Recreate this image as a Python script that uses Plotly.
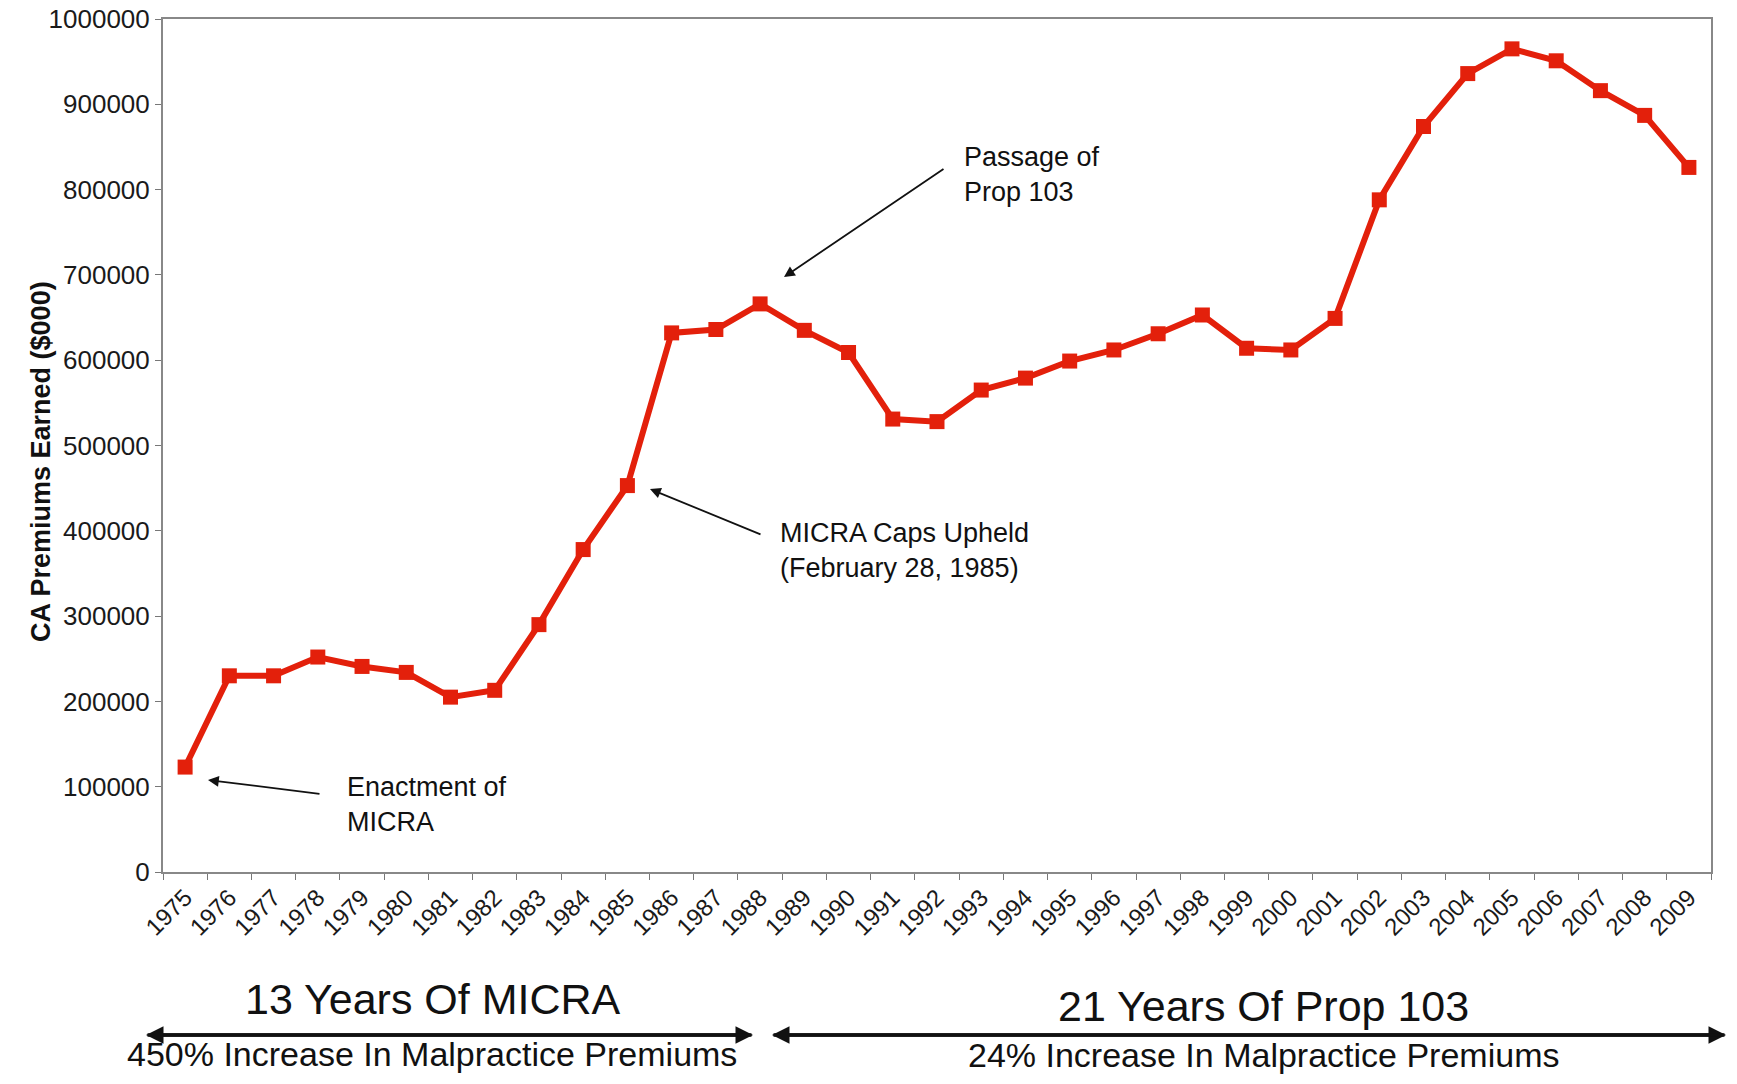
import plotly.graph_objects as go

years = [str(y) for y in range(1975, 2010)]
premiums = [123000, 230000, 230000, 252000, 241000, 234000, 205000, 213000, 290000, 378000,
            453000, 632000, 636000, 666000, 635000, 609000, 531000, 528000, 565000, 579000,
            599000, 612000, 631000, 653000, 614000, 612000, 649000, 788000, 874000, 936000,
            965000, 951000, 916000, 887000, 826000]
y_ticks = list(range(0, 1000001, 100000))

# page body has an 8px margin; the figure is sized to fit inside the window
OFF = 8
W, H = 1737 - 2 * OFF, 1084 - 2 * OFF
# plot area in window coordinates
PL, PR, PT, PB = 163, 1711, 19, 872
L, R, T, B = PL - OFF, W - (PR - OFF), PT - OFF, H - (PB - OFF)
PW, PH = W - L - R, H - T - B


def px(x):
    return (x - OFF - L) / PW


def py(y):
    return (H - B - (y - OFF)) / PH


FONT = "Liberation Sans, Arial, sans-serif"
RED = "#E3200B"

fig = go.Figure()
fig.add_trace(go.Scatter(
    x=years, y=premiums, mode="lines+markers",
    line=dict(color=RED, width=6),
    marker=dict(symbol="square", size=15, color=RED),
    showlegend=False,
))

fig.update_layout(
    width=W, height=H,
    margin=dict(l=L, r=R, t=T, b=B),
    paper_bgcolor="white", plot_bgcolor="white",
    font=dict(family=FONT, color="#1a1a1a"),
)
fig.update_xaxes(
    type="category", range=[-0.5, len(years) - 0.5], autorange=False, automargin=False,
    tickson="boundaries", ticks="outside", ticklen=6, ticklabeloverflow="allow",
    tickcolor="#777", showline=True, linecolor="#888", linewidth=2, mirror=True,
    showgrid=False, tickangle=-45, tickfont=dict(size=24, family=FONT),
)
fig.update_yaxes(
    range=[0, 1000000], autorange=False, automargin=False, tickvals=y_ticks, tickformat="d",
    ticks="outside", ticklen=6, ticklabeloverflow="allow",
    tickcolor="#777", showline=True, linecolor="#888", linewidth=2, mirror=True,
    showgrid=False, zeroline=False, tickfont=dict(size=26, family=FONT),
)

ann = []
# y-axis title
ann.append(dict(text="<b>CA Premiums Earned ($000)</b>", textangle=-90,
                xref="paper", yref="paper", x=px(24), y=py(462), showarrow=False,
                font=dict(size=27, family=FONT, color="#111")))


def arrow(x0, y0, x1, y1, width=1.8, head=2, size=1.2):
    return dict(text="", xref="x domain", yref="y domain", axref="x domain", ayref="y domain",
                x=px(x1), y=py(y1), ax=px(x0), ay=py(y0), showarrow=True,
                arrowhead=head, arrowsize=size, arrowwidth=width, arrowcolor="#111")


def text(t, x, y, size, xanchor="left", yanchor="top"):
    return dict(text=t, xref="paper", yref="paper", x=px(x), y=py(y), showarrow=False,
                xanchor=xanchor, yanchor=yanchor, align="left",
                font=dict(size=size, family=FONT, color="#111"))


# callouts
ann.append(arrow(945, 168, 784, 277))
ann.append(text("Passage of<br>Prop 103", 962, 140, 27))
ann.append(arrow(762, 535, 650, 489))
ann.append(text("MICRA Caps Upheld<br>(February 28, 1985)", 778, 516, 27))
ann.append(arrow(321, 794, 208, 780))
ann.append(text("Enactment of<br>MICRA", 345, 770, 27))

# bottom period labels
ann.append(text("13 Years Of MICRA", 433, 999, 43, xanchor="center", yanchor="middle"))
ann.append(arrow(146, 1035, 753, 1035, width=3.5, head=2, size=1.0))
ann.append(arrow(753, 1035, 146, 1035, width=3.5, head=2, size=1.0))
ann.append(text("450% Increase In Malpractice Premiums", 432, 1054, 34, xanchor="center", yanchor="middle"))
ann.append(text("21 Years Of Prop 103", 1263, 1006, 43, xanchor="center", yanchor="middle"))
ann.append(arrow(772, 1035, 1726, 1035, width=3.5, head=2, size=1.0))
ann.append(arrow(1726, 1035, 772, 1035, width=3.5, head=2, size=1.0))
ann.append(text("24% Increase In Malpractice Premiums", 1263, 1055, 34, xanchor="center", yanchor="middle"))

fig.update_layout(annotations=ann)
fig.write_html("out.html")
